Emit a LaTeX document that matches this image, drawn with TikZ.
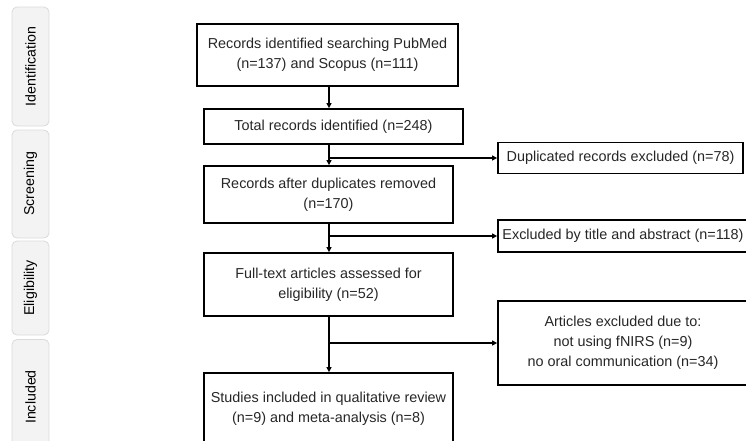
\documentclass[tikz,border=0pt]{standalone}
\usepackage{fontspec}
\setmainfont{Liberation Sans}
\usetikzlibrary{arrows.meta}
\definecolor{txt}{HTML}{262626}
\definecolor{tabfill}{HTML}{F3F3F3}
\definecolor{tabline}{HTML}{DADADA}
\tikzset{
  box/.style={draw=black, line width=1.8pt, align=center, text=txt, font=\fontsize{14.4}{20}\selectfont, inner sep=0pt},
  tab/.style={draw=tabline, fill=tabfill, rounded corners=5pt, line width=0.8pt, text=black, font=\fontsize{14.2}{16}\selectfont, rotate=90, inner sep=0pt},
  arr/.style={line width=1.5pt, -{Triangle[length=5pt,width=5pt]}},
}
\begin{document}
\begin{tikzpicture}[x=1pt,y=-1pt]
\useasboundingbox (0,0) rectangle (746,440);
% tabs
\node[tab, minimum width=119pt, minimum height=37pt] (t1) at (30.5,66.5) {Identification};
\node[tab, minimum width=108pt, minimum height=37pt] (t2) at (30.5,184) {Screening};
\node[tab, minimum width=94pt, minimum height=37pt] (t3) at (30.5,288) {Eligibility};
\node[tab, minimum width=115pt, minimum height=37pt] (t4) at (30.5,397) {Included};
% main boxes
\node[box, minimum width=261pt, minimum height=62pt] (b1) at (327.5,55) {Records identified searching PubMed\\(n=137) and Scopus (n=111)};
\node[box, minimum width=259pt, minimum height=35pt] (b2) at (333.5,126.5) {Total records identified (n=248)};
\node[box, minimum width=249pt, minimum height=57pt] (b3) at (328.5,194.5) {Records after duplicates removed\\(n=170)};
\node[box, minimum width=249pt, minimum height=63pt] (b4) at (328.5,284.5) {Full-text articles assessed for\\eligibility (n=52)};
\node[box, minimum width=249pt, minimum height=72pt] (b5) at (328.5,409) {Studies included in qualitative review\\(n=9) and meta-analysis (n=8)};
% side boxes
\node[box, minimum width=245pt, minimum height=31pt] (d) at (620.5,158) {Duplicated records excluded (n=78)};
\node[box, minimum width=250pt, minimum height=32pt] (e) at (623,236) {Excluded by title and abstract (n=118)};
\node[box, minimum width=250pt, minimum height=84pt] (f) at (623,343) {Articles excluded due to:\\not using fNIRS (n=9)\\no oral communication (n=34)};
% spine
\coordinate (sp) at (329,0);
\draw[arr] (b1.south -| sp) -- (b2.north -| sp);
\draw[arr] (b2.south -| sp) -- (b3.north -| sp);
\draw[arr] (b3.south -| sp) -- (b4.north -| sp);
\draw[arr] (b4.south -| sp) -- (b5.north -| sp);
\draw[arr] (sp |- d.west) -- (d.west);
\draw[arr] (sp |- e.west) -- (e.west);
\draw[arr] (sp |- f.west) -- (f.west);
\end{tikzpicture}
\end{document}
